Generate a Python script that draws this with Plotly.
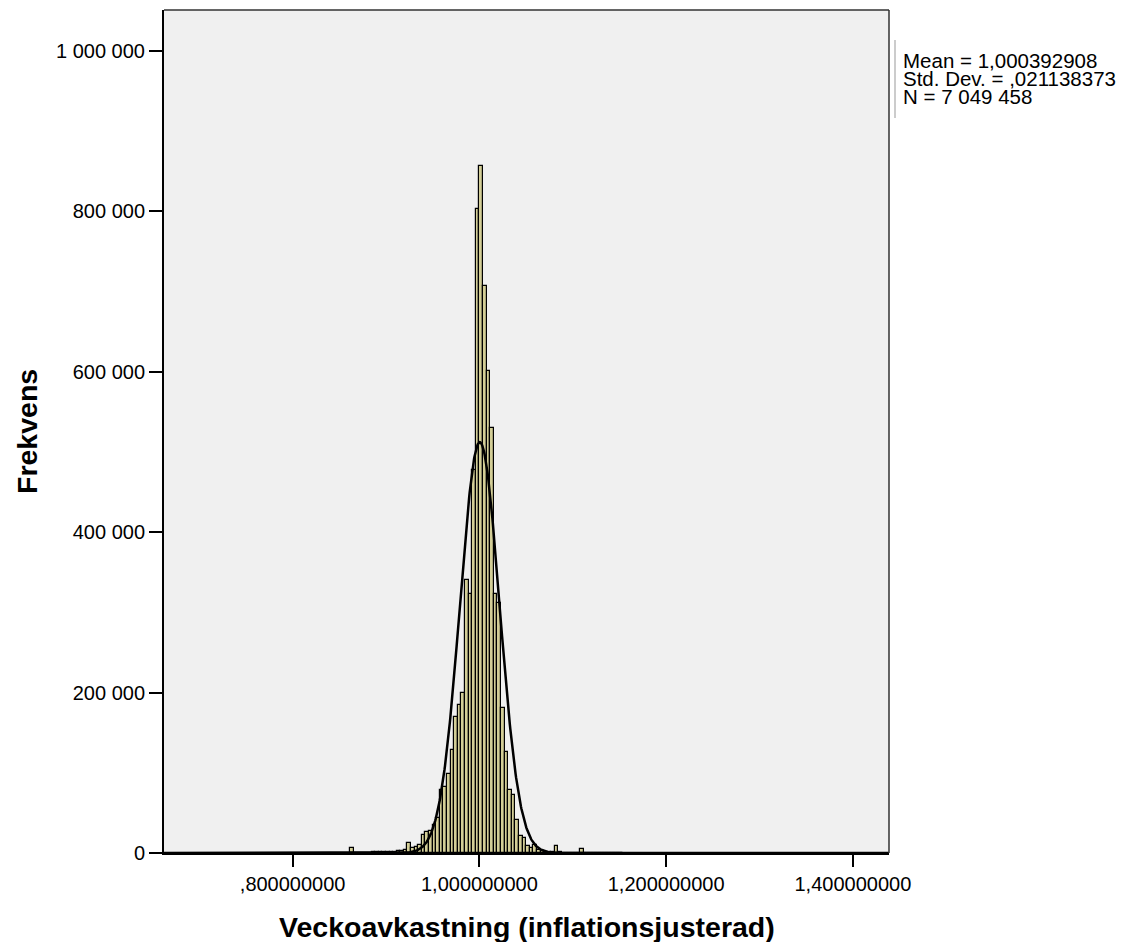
import numpy as np
import plotly.graph_objects as go

# ---------------- data ----------------
bin_width = 0.00385            # histogram bin width
bin_anchor = 1.0               # left edge of bin index 87
anchor_index = 87
first_bin_index = 51           # index of first non-empty bin
axis_min = 0.66222
axis_max = 1.4387

counts = [
    6300, 300, 400, 500, 600, 600, 700, 800, 900, 1000,
    1200, 1400, 1600, 2000, 2500, 3300, 12000, 6200, 7500, 10300,
    22800, 26500, 27000, 35300, 43600, 79000, 82000, 98800, 129000, 170000,
    184000, 200000, 341000, 323000, 478000, 803000, 856000, 707000, 601000, 530000,
    323000, 312000, 181000, 126000, 78000, 72000, 41500, 20700, 18700, 9300,
    6500, 10000, 4100, 2500, 1600, 1300, 900, 8300, 700, 600,
    500, 500, 400, 400, 5600, 300, 300, 250, 250, 200,
    200, 150, 150, 100, 100, 100,
]

mean_val = 1.000392908
std_val = 0.021138373
n_val = 7049458

x_tickvals = [0.8, 1.0, 1.2, 1.4]
x_ticktext = [",800000000", "1,000000000", "1,200000000", "1,400000000"]
y_tickvals = [0, 200000, 400000, 600000, 800000, 1000000]
y_ticktext = ["0", "200 000", "400 000", "600 000", "800 000", "1 000 000"]

stats_lines = ["Mean = 1,000392908", "Std. Dev. = ,021138373", "N = 7 049 458"]
x_title = "Veckoavkastning (inflationsjusterad)"
y_title = "Frekvens"

# ---------------- derived ----------------
bin_idx = np.arange(first_bin_index, first_bin_index + len(counts))
bin_centers = bin_anchor + (bin_idx - anchor_index + 0.5) * bin_width

xs = np.linspace(axis_min, axis_max, 1500)
curve = n_val * bin_width / (std_val * np.sqrt(2 * np.pi)) * np.exp(-0.5 * ((xs - mean_val) / std_val) ** 2)

FONT = "Liberation Sans, Arial, sans-serif"

fig = go.Figure()
fig.add_trace(go.Bar(
    x=bin_centers, y=counts, width=bin_width,
    marker=dict(color="#D3CE97", line=dict(color="black", width=1.2)),
    hoverinfo="x+y", showlegend=False,
))
fig.add_trace(go.Scatter(
    x=xs, y=curve, mode="lines",
    line=dict(color="black", width=2.5), showlegend=False, hoverinfo="skip",
))

L, R, T, B = 164, 239, 10, 89
W, H = 1128, 942
ph = H - T - B
pw = W - L - R

def py(pix):
    return (H - B - pix) / ph

def px(pix):
    return (pix - L) / pw

fig.update_layout(
    width=W, height=H, autosize=False,
    margin=dict(l=L, r=R, t=T, b=B, pad=0),
    paper_bgcolor="white", plot_bgcolor="#F0F0F0",
    bargap=0,
    font=dict(family=FONT, color="black", size=20),
    xaxis=dict(
        range=[axis_min, axis_max], tickvals=x_tickvals, ticktext=x_ticktext,
        ticks="outside", ticklen=12, tickwidth=2, tickcolor="black",
        showline=True, linewidth=2, linecolor="black",
        showgrid=False, zeroline=False,
        tickfont=dict(family=FONT, size=20, color="black"),
    ),
    yaxis=dict(
        range=[0, 1051100], tickvals=y_tickvals, ticktext=y_ticktext,
        ticks="outside", ticklen=13, tickwidth=2, tickcolor="black",
        showline=True, linewidth=2, linecolor="black",
        showgrid=False, zeroline=False,
        tickfont=dict(family=FONT, size=20, color="black"),
    ),
)

stats_text = "<br>".join('<span style="font-size:20.5px">%s</span>' % s for s in stats_lines)

annotations = [
    dict(text="<b>%s</b>" % x_title, xref="paper", yref="paper", x=0.5, y=py(927),
         xanchor="center", yanchor="middle", showarrow=False,
         font=dict(family=FONT, size=28.5, color="black")),
    dict(text="<b>%s</b>" % y_title, xref="paper", yref="paper", x=px(27), y=py(432),
         xanchor="center", yanchor="middle", textangle=-90, showarrow=False,
         font=dict(family=FONT, size=28.5, color="black")),
    dict(text=stats_text, xref="paper", yref="paper", x=px(901), y=py(79),
         xanchor="left", yanchor="middle", align="left", showarrow=False,
         font=dict(family=FONT, size=14, color="black")),
]
fig.update_layout(annotations=annotations)

fig.add_shape(type="line", xref="paper", yref="paper", x0=0, x1=1, y0=1, y1=1,
              line=dict(color="#333333", width=1.5))
fig.add_shape(type="line", xref="paper", yref="paper", x0=1, x1=1, y0=0, y1=1,
              line=dict(color="#333333", width=1.5))
fig.add_shape(type="line", xref="paper", yref="paper", x0=px(895), x1=px(895),
              y0=py(40), y1=py(118), line=dict(color="#BBBBBB", width=1.5))

fig.write_html("out.html")
